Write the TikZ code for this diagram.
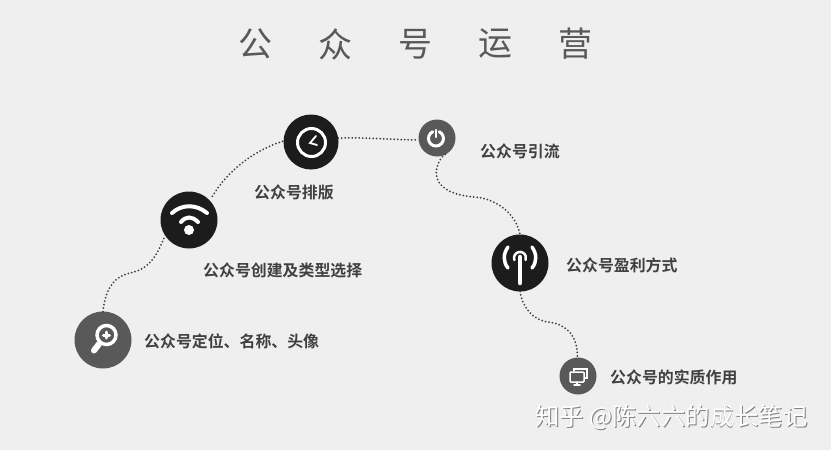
\documentclass[tikz,border=0pt]{standalone}
\usepackage{fontspec}
\newfontfamily\cjk{Noto Sans CJK SC}
\newfontfamily\cjkbold{Noto Sans CJK SC Bold}
\definecolor{bgcol}{HTML}{EFEFEF}
\definecolor{darkcol}{HTML}{1C1C1C}
\definecolor{midcol}{HTML}{595959}
\definecolor{textcol}{HTML}{404040}
\tikzset{
  bigdot/.style={circle, fill=darkcol, minimum size=57pt, inner sep=0pt, outer sep=0pt},
  graydot/.style={circle, fill=midcol, minimum size=37pt, inner sep=0pt, outer sep=0pt},
  trail/.style={textcol, line width=2pt, line cap=round, dash pattern=on 0pt off 3.5pt},
  icon/.style={white, line cap=round},
  lbl/.style={anchor=west, inner sep=0pt, text=textcol, font=\cjkbold\fontsize{15.9}{16}\selectfont},
  ttl/.style={inner sep=0pt, text=midcol, font=\cjk\fontsize{34}{34}\selectfont},
  wm/.style={anchor=west, inner sep=0pt, font=\cjk\fontsize{24.4}{25}\selectfont},
}
\begin{document}
\begin{tikzpicture}[x=1pt,y=-1pt]
\fill[bgcol] (0,0) rectangle (831,450);
\useasboundingbox (0,0) rectangle (831,450);
% title
\node[ttl] (t1) at (255,44) {公};
\node[ttl] (t2) at (335,44) {众};
\node[ttl] (t3) at (415,44) {号};
\node[ttl] (t4) at (495,44) {运};
\node[ttl] (t5) at (575,44) {营};
% stops
\node[graydot, minimum size=57pt] (search) at (103,340) {};
\node[bigdot] (wifi) at (189,220) {};
\node[bigdot, minimum size=55pt] (clock) at (311,142) {};
\node[graydot] (power) at (437,138) {};
\node[bigdot] (antenna) at (520,263) {};
\node[graydot] (monitor) at (578,376) {};
% trail
\draw[trail] (search.90) .. controls (105,292) and (112,277) .. (130,273)
  .. controls (150,269) and (157,255) .. (wifi.213);
\draw[trail, shorten <=5pt] (wifi.43) .. controls (228,170) and (255,150) .. (clock.178);
\draw[trail] (clock.8) .. controls (365,137) and (395,140) .. (power.186);
\draw[trail, shorten <=5pt] (power.-48) .. controls (438,159) and (431,176) .. (442,186)
  .. controls (455,197) and (470,196) .. (482,198)
  .. controls (503,203) and (517,218) .. (antenna.90);
\draw[trail] (antenna.-90) .. controls (522,306) and (532,320) .. (548,322)
  .. controls (568,324) and (578,338) .. (monitor.92);
% icons
\draw[icon, line width=3.5pt] (106.5,335) circle (9.5);
\draw[icon, line width=3pt] (103.5,335) -- (109.5,335) (106.5,332) -- (106.5,338);
\draw[icon, line width=6pt] (99,344) -- (94,350.5);
\draw[icon, line width=4pt] (172,213) .. controls (182,204) and (196,204) .. (207,213);
\draw[icon, line width=4pt] (181,222) .. controls (186,216) and (192,216) .. (198,222);
\fill[white] (189,230) circle (5);
\draw[icon, line width=3pt] (311.5,142.5) circle (14);
\draw[icon, line width=1.8pt] (316,136) -- (310,143) -- (317,145);
\draw[icon, line width=3pt] (432.8,131.7) arc (-115:-425:7.5);
\draw[icon, line width=2.5pt] (436,130) -- (436,137);
\draw[icon, line width=4.5pt] (520,257) -- (520,283);
\draw[icon, line width=2.5pt] (514.4,260) arc (-200:20:6);
\draw[icon, line width=3.5pt] (508,247) .. controls (503,254) and (503,262) .. (508,268);
\draw[icon, line width=3.5pt] (532,247) .. controls (537,254) and (537,262) .. (532,268);
\draw[icon, line width=1.3pt] (574,371) -- (574,369) -- (587,369) -- (587,378) -- (584,378);
\draw[icon, line width=1.5pt, fill=midcol, rounded corners=1pt] (570,372) rectangle (584,382);
\draw[icon, line width=1.5pt] (574,385) -- (580,385) (577,382) -- (577,385);
% labels
\node[lbl] (l1) at (144,341) {公众号定位、名称、头像};
\node[lbl] (l2) at (203,270) {公众号创建及类型选择};
\node[lbl] (l3) at (254,192) {公众号排版};
\node[lbl] (l4) at (480,151) {公众号引流};
\node[lbl] (l5) at (566,265) {公众号盈利方式};
\node[lbl] (l6) at (610,377) {公众号的实质作用};
% watermark
\node[wm, text=gray] (markshade) at (535.8,417.8) {知乎 @陈六六的成长笔记};
\node[wm, text=white] (mark) at (535,417) {知乎 @陈六六的成长笔记};
\end{tikzpicture}
\end{document}
